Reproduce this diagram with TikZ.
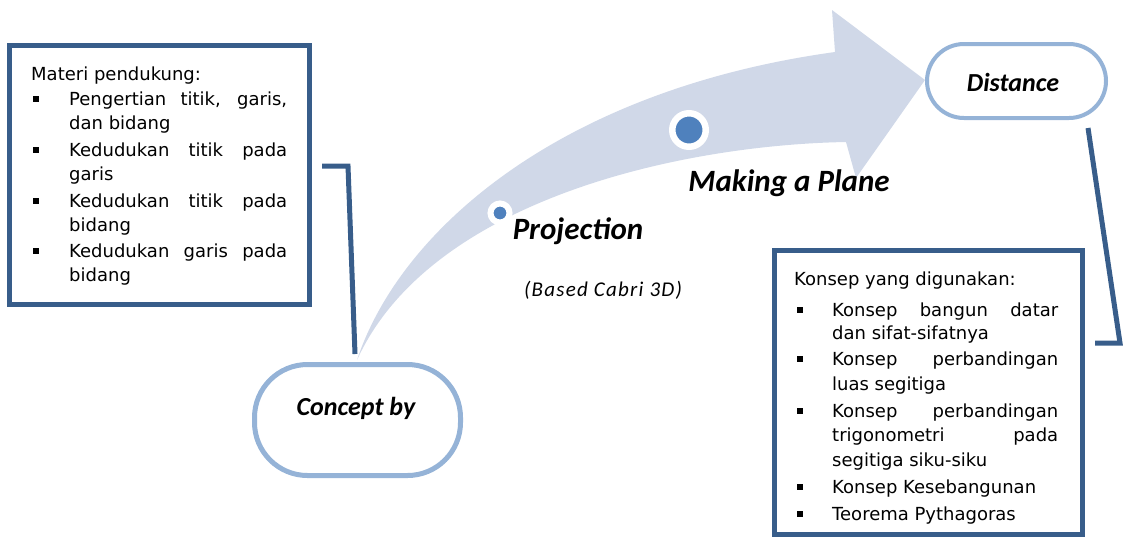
\documentclass[tikz,border=0pt]{standalone}
\usepackage{fontspec}
\setmainfont{Carlito}
\newfontfamily\boxfont{DejaVu Sans}
\newfontfamily\spacedfont[LetterSpace=6]{Carlito}
\newcommand\J[2]{\makebox[#1pt][s]{#2}}
\definecolor{dkblue}{HTML}{385D8A}
\definecolor{ltblue}{HTML}{95B3D7}
\definecolor{arrfill}{HTML}{D0D8E8}
\definecolor{dotblue}{HTML}{4F81BD}
\begin{document}
\begin{tikzpicture}[x=1pt,y=-1pt,
  dkbox/.style={draw=dkblue, line width=5pt, inner sep=0pt, rectangle},
  stad/.style={draw=ltblue, fill=white, inner sep=0pt, rectangle},
  ttl/.style={font=\fontsize{31}{34}\selectfont\bfseries\itshape, anchor=base, inner sep=0pt},
  ttlsm/.style={font=\fontsize{26}{29}\selectfont\bfseries\itshape, anchor=base, inner sep=0pt},
  bt/.style={font=\boxfont\fontsize{18}{20}\selectfont, anchor=base west, inner sep=0pt},
  bul/.style={fill=black, minimum size=6pt, inner sep=0pt, rectangle},
  conn/.style={draw=dkblue, line width=5pt},
  dot/.style={circle, fill=dotblue, draw=white, inner sep=0pt}
]
\useasboundingbox (0,0) rectangle (1123,539);

% curved arrow
\fill[arrfill] (357,360) .. controls (400,230) and (560,90) .. (835,52)
  -- (832,10) -- (925,80) -- (856,178) -- (846,142)
  .. controls (680,145) and (430,200) .. (357,360) -- cycle;

% dots
\node[dot, line width=6.5pt, minimum size=33.5pt] (d2) at (689,130) {};
\node[dot, line width=6pt, minimum size=19pt] (d1) at (500,213) {};

% boxes
\node[dkbox, minimum width=300pt, minimum height=259pt] (lbox) at (159.5,175) {};
\node[dkbox, minimum width=308pt, minimum height=284pt] (rbox) at (928.5,392.5) {};

% stadium nodes
\node[stad, line width=5pt, rounded corners=53pt, minimum width=206pt, minimum height=111pt] (cpt) at (357.5,420) {};
\node[stad, line width=4pt, rounded corners=37pt, minimum width=179pt, minimum height=74pt] (dist) at (1016.5,81) {};

% connectors
\coordinate (lk1) at (322,166);
\coordinate (lk2) at (348,166);
\coordinate (lk3) at (355,354);
\draw[conn] (lk1) -- (lk2) -- (lk3);
\coordinate (rk1) at (1088,128);
\coordinate (rk2) at (1120,343);
\coordinate (rk3) at (1095,343);
\draw[conn] (rk1) -- (rk2) -- (rk3);

% titles
\node[ttl] (tmp) at (789,191) {Making a Plane};
\node[ttl] (tpr) at (578,239) {Projection};
\node[anchor=base, inner sep=0pt, font=\spacedfont\itshape\fontsize{21}{23}\selectfont] (tbc) at (603,296) {(Based Cabri 3D)};
\node[ttlsm] (tcb) at (356,415) {Concept by};
\node[ttlsm] (tds) at (1013,91) {Distance};

% left box text
\node[bt] (l0) at (31,80) {Materi pendukung:};
\node[bt] (l1) at (69,105) {\J{218}{Pengertian titik, garis,}};
\node[bt] (l2) at (69,129) {dan bidang};
\node[bt] (l3) at (69,156) {\J{218}{Kedudukan titik pada}};
\node[bt] (l4) at (69,180) {garis};
\node[bt] (l5) at (69,207) {\J{218}{Kedudukan titik pada}};
\node[bt] (l6) at (69,231) {bidang};
\node[bt] (l7) at (69,257) {\J{218}{Kedudukan garis pada}};
\node[bt] (l8) at (69,281) {bidang};
\node[bul] (lb1) at (35.5,99) {};
\node[bul] (lb2) at (35.5,150) {};
\node[bul] (lb3) at (35.5,201) {};
\node[bul] (lb4) at (35.5,251) {};

% right box text
\node[bt] (r0) at (794,285) {Konsep yang digunakan:};
\node[bt] (r1) at (832,316) {\J{226}{Konsep bangun datar}};
\node[bt] (r2) at (832,339) {dan sifat-sifatnya};
\node[bt] (r3) at (832,365) {\J{226}{Konsep perbandingan}};
\node[bt] (r4) at (832,390) {luas segitiga};
\node[bt] (r5) at (832,417) {\J{226}{Konsep perbandingan}};
\node[bt] (r6) at (832,441) {\J{226}{trigonometri pada}};
\node[bt] (r7) at (832,466) {segitiga siku-siku};
\node[bt] (r8) at (832,493) {Konsep Kesebangunan};
\node[bt] (r9) at (832,520) {Teorema Pythagoras};
\node[bul] (rb1) at (799.5,310) {};
\node[bul] (rb2) at (799.5,359) {};
\node[bul] (rb3) at (799.5,411) {};
\node[bul] (rb4) at (799.5,487) {};
\node[bul] (rb5) at (799.5,514) {};
\end{tikzpicture}
\end{document}
